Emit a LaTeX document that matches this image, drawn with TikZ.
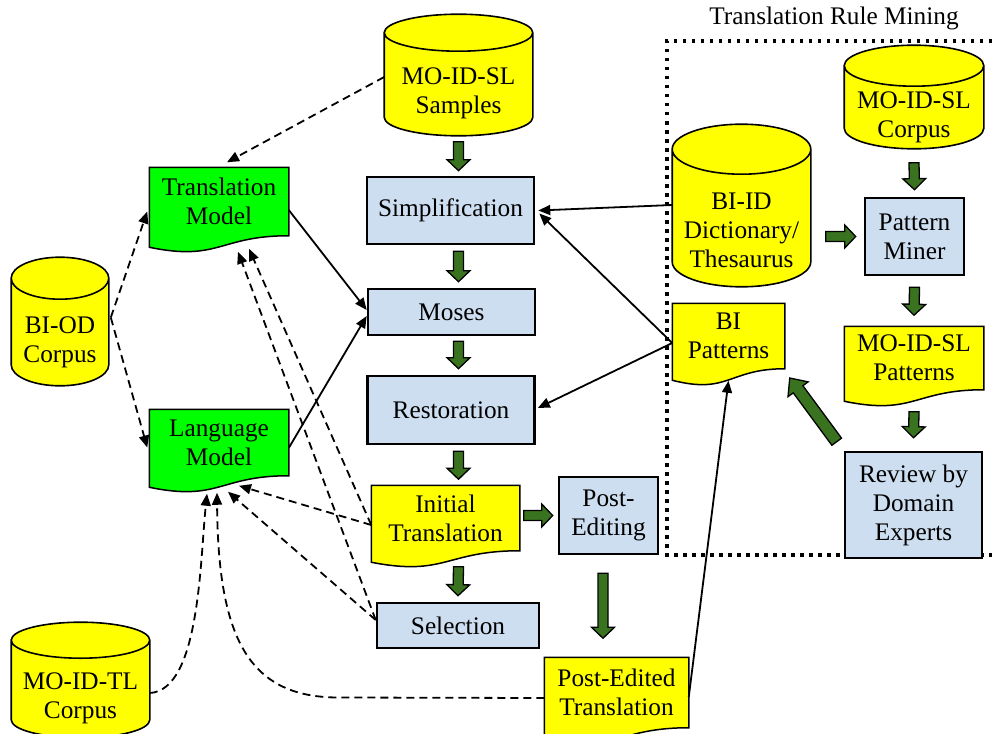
\documentclass[tikz,border=0pt]{standalone}
\usepackage{fontspec}
\setmainfont{Liberation Serif}
\usetikzlibrary{arrows.meta,calc}

\definecolor{dbyellow}{RGB}{255,255,0}
\definecolor{modelgreen}{RGB}{0,255,0}
\definecolor{stepblue}{RGB}{205,222,240}
\definecolor{flowgreen}{RGB}{58,115,32}

% own registers for the two shapes below
\newdimen\shpxa \newdimen\shpya \newdimen\shpxb \newdimen\shpyb
\newdimen\shpxc \newdimen\shpyc \newdimen\shprx
\newdimen\dbcapdim \dbcapdim=20pt

\makeatletter
% page with a wavy lower edge
\pgfdeclareshape{docpage}{%
  \inheritsavedanchors[from=rectangle]%
  \inheritanchorborder[from=rectangle]%
  \inheritanchor[from=rectangle]{center}%
  \inheritanchor[from=rectangle]{mid}%
  \inheritanchor[from=rectangle]{base}%
  \inheritanchor[from=rectangle]{north}%
  \inheritanchor[from=rectangle]{south}%
  \inheritanchor[from=rectangle]{east}%
  \inheritanchor[from=rectangle]{west}%
  \inheritanchor[from=rectangle]{north east}%
  \inheritanchor[from=rectangle]{north west}%
  \inheritanchor[from=rectangle]{south east}%
  \inheritanchor[from=rectangle]{south west}%
  \backgroundpath{%
    \southwest \shpxa=\pgf@x \shpya=\pgf@y
    \northeast \shpxb=\pgf@x \shpyb=\pgf@y
    \shpxc=.5\shpxa \advance\shpxc by .5\shpxb
    \pgfpathmoveto{\pgfqpoint{\shpxa}{\shpyb}}%
    \pgfpathlineto{\pgfqpoint{\shpxb}{\shpyb}}%
    \pgfpathlineto{\pgfqpoint{\shpxb}{\shpya}}%
    \shpyc=\shpya \advance\shpyc by -26pt
    \shpyb=\shpya \advance\shpyb by -11.5pt
    \pgfpathcurveto{\pgfqpoint{\shpxc}{\shpya}}{\pgfqpoint{\shpxc}{\shpyc}}{\pgfqpoint{\shpxa}{\shpyb}}%
    \pgfpathclose
  }%
}
% cylinder, the node box is its front face
\pgfdeclareshape{dbcyl}{%
  \inheritsavedanchors[from=rectangle]%
  \inheritanchorborder[from=rectangle]%
  \inheritanchor[from=rectangle]{center}%
  \inheritanchor[from=rectangle]{mid}%
  \inheritanchor[from=rectangle]{base}%
  \inheritanchor[from=rectangle]{north}%
  \inheritanchor[from=rectangle]{south}%
  \inheritanchor[from=rectangle]{east}%
  \inheritanchor[from=rectangle]{west}%
  \inheritanchor[from=rectangle]{north east}%
  \inheritanchor[from=rectangle]{north west}%
  \inheritanchor[from=rectangle]{south east}%
  \inheritanchor[from=rectangle]{south west}%
  \backgroundpath{%
    \southwest \shpxa=\pgf@x \shpya=\pgf@y
    \northeast \shpxb=\pgf@x \shpyb=\pgf@y
    \shprx=.5\shpxb \advance\shprx by -.5\shpxa
    \shpxc=.5\shpxa \advance\shpxc by .5\shpxb
    \advance\shpya by \dbcapdim
    \advance\shpyb by \dbcapdim
    \edef\shplowarc{\noexpand\pgfpatharc{180}{360}{\the\shprx\space and \the\dbcapdim}}%
    \edef\shphigharc{\noexpand\pgfpatharc{0}{180}{\the\shprx\space and \the\dbcapdim}}%
    \pgfpathmoveto{\pgfqpoint{\shpxa}{\shpyb}}%
    \pgfpathlineto{\pgfqpoint{\shpxa}{\shpya}}%
    \shplowarc
    \pgfpathlineto{\pgfqpoint{\shpxb}{\shpyb}}%
    \shphigharc
    \pgfpathclose
    \pgfpathellipse{\pgfqpoint{\shpxc}{\shpyb}}{\pgfqpoint{\shprx}{0pt}}{\pgfqpoint{0pt}{\dbcapdim}}%
  }%
}
\makeatother

\def\gshaft{5pt}
\def\ghead{11.5pt}
\def\glen{11pt}

\begin{document}
\begin{tikzpicture}[x=1pt,y=-1pt,
    every node/.style={font=\fontsize{25.3}{29}\selectfont, align=center, inner sep=0pt},
    dbcap/.code={\dbcapdim=#1},
    cyl/.style={dbcyl, draw, fill=dbyellow, line width=1.6pt},
    stepbox/.style={rectangle, draw, fill=stepblue, line width=2.6pt},
    docnote/.style={docpage, draw, line width=1.5pt},
    flow/.style={-{Triangle[length=12pt,width=10pt]}, line width=1.8pt},
    feed/.style={flow, dash pattern=on 8pt off 5pt},
    minebox/.style={line width=3.5pt, dash pattern=on 3.5pt off 5.5pt},
    garrow/.style={draw=black, line width=1.3pt, fill=flowgreen,
      to path={(\tikztostart) coordinate (gtail) (\tikztotarget) coordinate (gtip)
        ($(gtail)!\gshaft!90:(gtip)$)
        -- ($(gtip)!\glen!(gtail)!\gshaft!-90:(gtail)$)
        -- ($(gtip)!\glen!(gtail)!\ghead!-90:(gtail)$)
        -- (gtip)
        -- ($(gtip)!\glen!(gtail)!\ghead!90:(gtail)$)
        -- ($(gtip)!\glen!(gtail)!\gshaft!90:(gtail)$)
        -- ($(gtail)!\gshaft!-90:(gtip)$) -- cycle}},
    big garrow/.style={garrow, /utils/exec={\def\gshaft{6pt}\def\ghead{12.5pt}\def\glen{14pt}}}]
  \useasboundingbox (0,0) rectangle (992,733);

  % mining part
  \draw[minebox] (992,41) -| (667,555) -- (992,555);
  \node (minetitle) at (834,18) {Translation Rule Mining};

  \node[cyl, dbcap=18.5pt, minimum width=147pt, minimum height=83pt] (samples) at (458.5,93.5) {MO-ID-SL\\Samples};
  \node[cyl, dbcap=20.5pt, minimum width=138pt, minimum height=61pt] (slcorpus) at (914,117.5) {MO-ID-SL\\Corpus};
  \node[cyl, dbcap=25pt, minimum width=137pt, minimum height=111pt] (dict) at (741.5,230.5) {BI-ID\\Dictionary/\\Thesaurus};
  \node[cyl, dbcap=21pt, minimum width=96pt, minimum height=85pt] (biod) at (60,342.5) {BI-OD\\Corpus};
  \node[cyl, dbcap=18pt, minimum width=137pt, minimum height=78pt] (tlcorpus) at (80.5,698) {MO-ID-TL\\Corpus};

  \node[stepbox, minimum width=167pt, minimum height=67pt] (simp) at (450.5,210.5) {Simplification};
  \node[stepbox, minimum width=167pt, minimum height=46pt] (moses) at (451.5,312) {Moses};
  \node[stepbox, minimum width=167pt, minimum height=68pt] (restore) at (451,410) {Restoration};
  \node[stepbox, minimum width=162pt, minimum height=45pt] (select) at (458,625.5) {Selection};
  \node[stepbox, minimum width=99pt, minimum height=77pt] (postedit) at (608.5,515.5) {Post-\\Editing};
  \node[stepbox, minimum width=99pt, minimum height=77pt] (miner) at (914.5,236.5) {Pattern\\Miner};
  \node[stepbox, minimum width=137pt, minimum height=106pt] (review) at (913.5,505) {Review by\\Domain\\Experts};

  \node[docnote, fill=modelgreen, minimum width=138pt, minimum height=67pt] (tm) at (219,201.5) {Translation\\Model};
  \node[docnote, fill=modelgreen, minimum width=138pt, minimum height=65pt] (lm) at (219,442.5) {Language\\Model};
  \node[docnote, fill=dbyellow, minimum width=147pt, minimum height=64pt] (init) at (445.5,518) {Initial\\Translation};
  \node[docnote, fill=dbyellow, minimum width=111pt, minimum height=64pt] (bipat) at (728.5,336) {BI\\Patterns};
  \node[docnote, fill=dbyellow, minimum width=138pt, minimum height=62pt] (slpat) at (914,358) {MO-ID-SL\\Patterns};
  \node[docnote, fill=dbyellow, minimum width=143pt, minimum height=69pt] (pedt) at (616.5,692.5) {Post-Edited\\Translation};

  % main flow
  \draw[garrow] ($(samples.south)+(0,6)$) to ($(simp.north -| samples.south)+(0,-5)$);
  \draw[garrow] ($(simp.south -| samples.south)+(0,6)$) to ($(moses.north -| samples.south)+(0,-6)$);
  \draw[garrow] ($(moses.south -| samples.south)+(0,5)$) to ($(restore.north -| samples.south)+(0,-6)$);
  \draw[garrow] ($(restore.south -| samples.south)+(0,6)$) to ($(init.north -| samples.south)+(0,-6)$);
  \draw[garrow] ($(init.south -| samples.south)+(0,16)$) to ($(select.north)+(0,-6)$);
  \draw[garrow] ($(init.east |- postedit.west)+(4,0)$) to ($(postedit.west)+(-5,0)$);
  \draw[garrow] ($(postedit.south)+(-5.5,18)$) to ($(pedt.north -| postedit.south)+(-5.5,-19)$);
  \draw[garrow] ($(dict.east |- miner.west)+(15,0)$) to ($(miner.west)+(-8,0)$);
  \draw[garrow] ($(slcorpus.south)+(0,14)$) to ($(miner.north)+(0,-7)$);
  \draw[garrow] ($(miner.south)+(0,11)$) to ($(slpat.north)+(0,-11)$);
  \draw[garrow] ($(slpat.south)+(0,22)$) to ($(review.north)+(0,-13)$);
  \draw[big garrow] ($(review.north west)+(-7,-9)$) to ($(bipat.east)+(5,42)$);

  % rules and models
  \path[flow]
    ($(dict.west)+(0,-25.5)$) edge ($(simp.east)+(3,0)$)
    ($(bipat.west)+(0,7)$) edge ($(simp.east)+(4,3)$)
    ($(bipat.west)+(0,7)$) edge ($(restore.east)+(2,-2)$)
    ($(tm.east)+(0,8.5)$) edge ($(moses.west)+(0,-2)$)
    ($(lm.east)+(0,5.5)$) edge ($(moses.west)+(0,4)$)
    ($(pedt.east)+(0,4.5)$) edge ($(bipat.south)+(0,12)$);

  \path[feed]
    ($(samples.west)+(0,-16.5)$) edge ($(tm.north)+(8,-5)$)
    ($(biod.east)+(2,-25)$) edge ($(tm.west)+(-2,10)$)
    ($(biod.east)+(2,-25)$) edge ($(lm.west)+(-2,5)$)
    ($(init.west)+(0,7)$) edge ($(tm.south)+(30,13)$)
    ($(select.west)+(0,-5.5)$) edge ($(tm.south)+(19,16)$)
    ($(init.west)+(0,7)$) edge ($(lm.south)+(20,10)$)
    ($(select.west)+(0,-5.5)$) edge ($(lm.south)+(9,16)$);

  \draw[feed] ($(tlcorpus.east)+(0,-5)$) .. controls ($(tlcorpus.east)+(50,-8)$) and ($(lm.south)+(-19,85)$) .. ($(lm.south)+(-12,18)$);
  \draw[feed] ($(pedt.west)+(0,5.5)$) -- ($(pedt.west)+(-205,5)$) .. controls ($(lm.south)+(31,222)$) and ($(lm.south)+(-1,165)$) .. ($(lm.south)+(-2,17)$);
\end{tikzpicture}
\end{document}
